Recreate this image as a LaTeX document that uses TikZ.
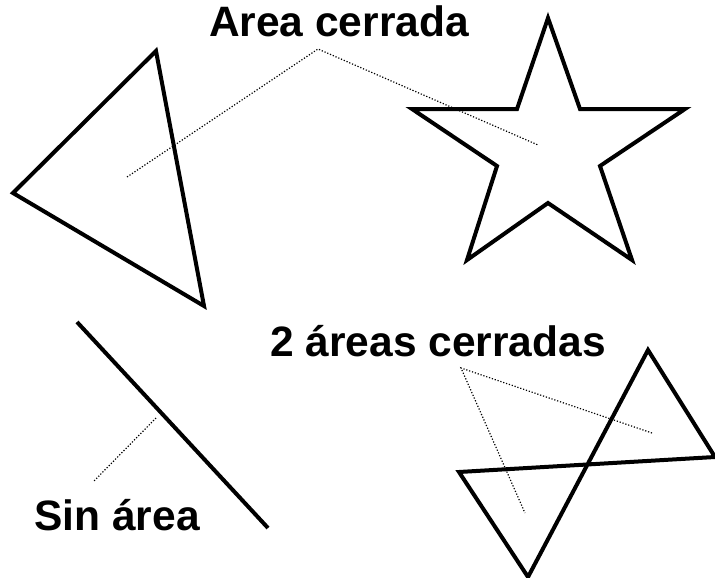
\documentclass[tikz,border=0pt]{standalone}
\usepackage{fontspec}
\setmainfont{Liberation Sans}
\usetikzlibrary{positioning}

\begin{document}
\begin{tikzpicture}[
    x=1pt, y=-1pt,
    outline/.style={draw, line width=4pt, line join=miter},
    pointer/.style={draw, line width=1.2pt, dash pattern=on 1.2pt off 1.8pt},
    caption/.style={inner sep=0pt, anchor=base, font=\fontsize{42.5}{42.5}\selectfont\bfseries}
]
\useasboundingbox (0,0) rectangle (715,578);

% Labels
\node[caption] (closed) at (339,37) {Area cerrada};
\node[caption] (twoclosed) at (438,356) {2 áreas cerradas};
\node[caption] (noarea) at (117,530) {Sin área};

% Triangle
\coordinate (ta) at (156,51);
\coordinate (tb) at (13,193);
\coordinate (tc) at (204,306);
\draw[outline] (ta) -- (tb) -- (tc) -- cycle;

% Star
\draw[outline] (548,18) -- (580,109) -- (685,109) -- (600,166) -- (632,260)
    -- (548,203) -- (467,260) -- (497,166) -- (412,109) -- (517,109) -- cycle;

% Line
\coordinate (la) at (77,322);
\coordinate (lb) at (268,528);
\draw[outline] (la) -- (lb);

% Crossed triangles
\coordinate (bl) at (459,472);
\coordinate (br) at (715,457);
\coordinate (bt) at (648,350);
\coordinate (bb) at (528,577);
\draw[outline] (bl) -- (br) -- (bt) -- (bb) -- cycle;

% Pointers
\coordinate (closedtip) at (318,49);
\coordinate (triin) at (127,177);
\coordinate (starin) at (538,145);
\draw[pointer] (triin) -- (closedtip) -- (starin);

\coordinate (twotip) at (461,368);
\coordinate (upin) at (652,433);
\coordinate (downin) at (525,513);
\draw[pointer] (upin) -- (twotip) -- (downin);

\coordinate (lineat) at (156,418);
\coordinate (noareatip) at (93,482);
\draw[pointer] (lineat) -- (noareatip);

\end{tikzpicture}
\end{document}
